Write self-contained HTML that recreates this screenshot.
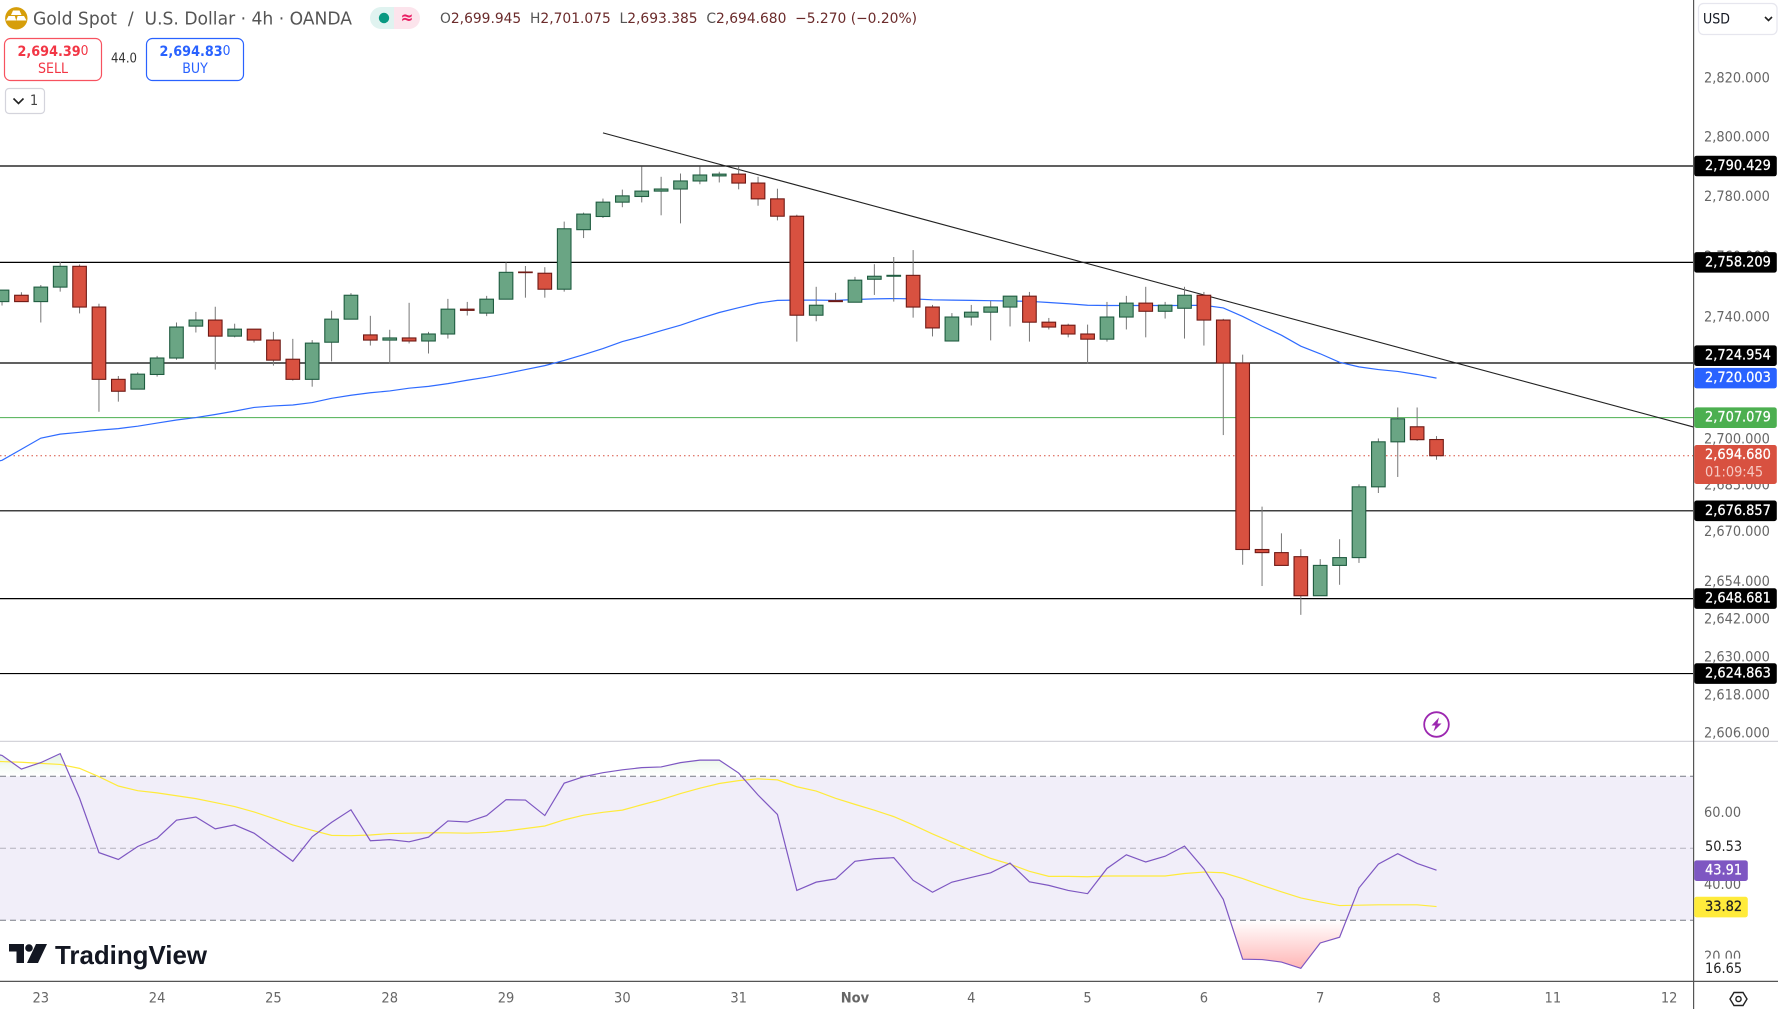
<!DOCTYPE html>
<html>
<head>
<meta charset="utf-8">
<title>Gold Spot / U.S. Dollar 4h</title>
<style>
html,body{margin:0;padding:0;background:#fff;width:1778px;height:1009px;overflow:hidden}
svg{display:block;font-family:"DejaVu Sans Condensed","Liberation Sans",sans-serif}
</style>
</head>
<body>
<svg id="chart" xmlns="http://www.w3.org/2000/svg" width="1778" height="1009" viewBox="0 0 1778 1009">
  <defs>
    <linearGradient id="obGrad" gradientUnits="userSpaceOnUse" x1="0" y1="776" x2="0" y2="746">
      <stop offset="0" stop-color="#4caf50" stop-opacity="0"/>
      <stop offset="1" stop-color="#4caf50" stop-opacity="0.2"/>
    </linearGradient>
    <linearGradient id="osGrad" gradientUnits="userSpaceOnUse" x1="0" y1="920" x2="0" y2="968">
      <stop offset="0" stop-color="#ff5252" stop-opacity="0"/>
      <stop offset="1" stop-color="#ff5252" stop-opacity="0.42"/>
    </linearGradient>
    <clipPath id="obClip"><rect x="0" y="742" width="1693" height="34.3"/></clipPath>
    <clipPath id="osClip"><rect x="0" y="920.3" width="1693" height="60"/></clipPath>
    <clipPath id="plotClip"><rect x="0" y="0" width="1693" height="741"/></clipPath>
  </defs>

  <rect x="0" y="776.3" width="1693" height="144" fill="#f1eef9"/>
  <g id="rsiFills"></g>
  <g id="rsiGuides"></g>
  <g id="priceLevels" clip-path="url(#plotClip)"></g>
  <g id="maLayer" clip-path="url(#plotClip)"></g>
  <g id="candles" clip-path="url(#plotClip)"></g>
  <g id="rsiLines"></g>

  <!-- frame -->
  <line x1="0" y1="741.4" x2="1778" y2="741.4" stroke="#d4d4da" stroke-width="1.2"/>
  <line x1="0" y1="981.4" x2="1778" y2="981.4" stroke="#555" stroke-width="1.2"/>
  <line x1="1693.6" y1="0" x2="1693.6" y2="1009" stroke="#555" stroke-width="1.2"/>

  <g id="priceAxis"></g>
  <g id="timeAxis"></g>

  <!-- header -->
  <g>
    <circle cx="16.3" cy="18.3" r="11.2" fill="#d69e0a"/>
    <polygon points="13,10.5 19.5,10.5 21.5,15 11,15" fill="#fff"/>
    <polygon points="8.5,16 14.8,16 16.2,20.5 6,20.5" fill="#fff"/>
    <polygon points="17.6,16 24,16 26.5,20.5 16.4,20.5" fill="#fff"/>
  </g>
  <text x="33" y="19" dominant-baseline="central" font-size="18" fill="#555" textLength="319" lengthAdjust="spacingAndGlyphs" xml:space="preserve">Gold Spot  /  U.S. Dollar · 4h · OANDA</text>
  <g>
    <path d="M381 7H394V29H381A11 11 0 0 1 381 7Z" fill="#e0f3f0"/>
    <path d="M394 7H409A11 11 0 0 1 409 29H394Z" fill="#fce4ec"/>
    <circle cx="384" cy="18" r="5.2" fill="#089981"/>
    <text x="407" y="18" text-anchor="middle" dominant-baseline="central" font-size="17" font-weight="bold" fill="#e91e63">≈</text>
  </g>
  <text x="440" y="19" dominant-baseline="central" font-size="14.5" fill="#6b2b2b" textLength="477" lengthAdjust="spacingAndGlyphs" xml:space="preserve"><tspan fill="#555">O</tspan>2,699.945  <tspan fill="#555">H</tspan>2,701.075  <tspan fill="#555">L</tspan>2,693.385  <tspan fill="#555">C</tspan>2,694.680  −5.270 (−0.20%)</text>

  <g>
    <rect x="4.5" y="38.5" width="97" height="42" rx="6" fill="#fff" stroke="#f7525f" stroke-width="1.2"/>
    <text x="53" y="52" text-anchor="middle" dominant-baseline="central" font-size="14" font-weight="bold" fill="#f23645" textLength="71" lengthAdjust="spacingAndGlyphs">2,694.39<tspan font-size="13.5" font-weight="normal" dy="-1">0</tspan></text>
    <text x="53" y="69" text-anchor="middle" dominant-baseline="central" font-size="14" fill="#f23645">SELL</text>
  </g>
  <text x="124" y="59" text-anchor="middle" dominant-baseline="central" font-size="13" fill="#333">44.0</text>
  <g>
    <rect x="146.5" y="38.5" width="97" height="42" rx="6" fill="#fff" stroke="#2962ff" stroke-width="1.2"/>
    <text x="195" y="52" text-anchor="middle" dominant-baseline="central" font-size="14" font-weight="bold" fill="#2962ff" textLength="71" lengthAdjust="spacingAndGlyphs">2,694.83<tspan font-size="13.5" font-weight="normal" dy="-1">0</tspan></text>
    <text x="195" y="69" text-anchor="middle" dominant-baseline="central" font-size="14" fill="#2962ff">BUY</text>
  </g>
  <g>
    <rect x="5.5" y="88.5" width="39" height="25" rx="3.5" fill="#fff" stroke="#d4d4dc" stroke-width="1.2"/>
    <path d="M13.5 98.5 L18.5 103.5 L23.5 98.5" fill="none" stroke="#222" stroke-width="1.6"/>
    <text x="34" y="101" text-anchor="middle" dominant-baseline="central" font-size="14.5" fill="#444">1</text>
  </g>
  <g>
    <rect x="1698.5" y="3.5" width="78.5" height="31" rx="5" fill="#fff" stroke="#e6e6ee" stroke-width="1.2"/>
    <text x="1703" y="19.5" dominant-baseline="central" font-size="14" fill="#131722">USD</text>
    <path d="M1765 17 L1768.5 20.5 L1772 17" fill="none" stroke="#222" stroke-width="1.6"/>
  </g>

  <g>
    <path d="M9 944H24V963H16.5V951.5H9Z" fill="#131722"/>
    <circle cx="29" cy="948" r="3.8" fill="#131722"/>
    <polygon points="36,944 47,944 38,963 27,963" fill="#131722"/>
    <text x="55" y="955" dominant-baseline="central" font-family="'Liberation Sans',sans-serif" font-size="26" font-weight="bold" fill="#131722" textLength="152" lengthAdjust="spacingAndGlyphs">TradingView</text>
  </g>
  <g>
    <circle cx="1436.5" cy="724.5" r="12.3" fill="#fff" stroke="#9c27b0" stroke-width="1.8"/>
    <polygon points="1439,717.5 1431.5,725.5 1435.5,725.5 1433.5,731.5 1441.5,723.5 1437.5,723.5" fill="#9c27b0"/>
  </g>
  <g>
    <polygon points="1730,999 1734,992.5 1743,992.5 1747,999 1743,1005.5 1734,1005.5" fill="none" stroke="#222" stroke-width="1.4"/>
    <circle cx="1738.5" cy="999" r="2.6" fill="none" stroke="#222" stroke-width="1.4"/>
  </g>
</svg>

<script>
// ---- chart data ----
const opens = [2745.2,2747.3,2745.2,2750.0,2756.9,2743.4,2719.6,2716.4,2721.2,2726.6,2737.1,2739.1,2733.8,2736.1,2732.5,2726.2,2719.6,2731.8,2739.4,2734.2,2732.5,2733.2,2732.2,2734.5,2742.7,2741.4,2746.0,2755.0,2754.6,2749.3,2769.1,2773.5,2778.3,2780.2,2782.0,2782.7,2785.4,2787.1,2787.7,2784.7,2779.4,2773.6,2740.7,2745.5,2745.0,2752.6,2753.6,2753.9,2743.4,2732.2,2740.1,2741.7,2743.4,2747.0,2738.4,2737.4,2734.5,2732.8,2740.1,2744.7,2742.0,2743.0,2747.3,2739.1,2724.95,2664.4,2663.4,2662.1,2649.6,2659.3,2661.8,2684.6,2699.2,2704.1,2699.945];
const highs = [2749.0,2748.3,2750.7,2758.4,2757.5,2744.5,2720.7,2721.9,2727.3,2738.3,2741.8,2743.5,2737.9,2736.1,2735.2,2732.9,2732.5,2742.2,2748.0,2740.5,2735.9,2744.8,2735.2,2746.1,2745.1,2747.1,2758.2,2757.0,2756.6,2771.8,2774.8,2779.5,2782.5,2790.3,2786.8,2787.9,2790.3,2788.5,2790.3,2786.8,2782.8,2774.1,2750.1,2748.1,2753.4,2757.6,2760.0,2762.3,2744.1,2741.4,2744.1,2745.4,2747.0,2748.4,2739.8,2737.9,2737.6,2745.1,2747.1,2750.1,2745.1,2750.1,2748.4,2739.5,2727.7,2678.2,2669.6,2664.5,2661.3,2667.7,2685.4,2700.3,2710.4,2710.4,2701.075];
const lows = [2743.9,2745.2,2738.3,2748.5,2741.3,2709.0,2712.3,2716.4,2720.5,2726.0,2735.0,2722.8,2733.4,2731.7,2724.1,2719.2,2717.2,2725.5,2739.4,2730.7,2724.9,2731.4,2728.1,2733.0,2740.6,2740.4,2746.0,2746.5,2746.5,2748.5,2766.3,2773.0,2776.6,2778.2,2773.9,2771.2,2784.3,2784.9,2782.6,2777.1,2772.2,2732.0,2738.7,2745.2,2745.0,2747.4,2745.2,2739.9,2733.7,2732.2,2737.3,2732.4,2737.0,2732.0,2736.0,2733.4,2724.9,2732.0,2736.0,2733.4,2739.6,2733.0,2730.7,2701.4,2659.5,2652.7,2659.3,2643.5,2649.6,2653.1,2660.1,2682.6,2687.8,2699.5,2693.385];
const closes = [2749.0,2745.2,2750.0,2756.9,2743.4,2719.6,2715.7,2721.3,2726.6,2736.8,2739.1,2733.8,2736.1,2732.5,2725.9,2719.6,2731.5,2739.4,2747.3,2732.5,2733.2,2732.2,2734.5,2742.7,2742.3,2746.0,2754.9,2754.8,2749.3,2769.4,2774.3,2778.3,2780.4,2782.0,2782.7,2785.4,2787.4,2787.7,2784.7,2779.4,2773.6,2740.7,2744.0,2745.2,2752.3,2753.6,2753.9,2743.4,2736.5,2740.1,2741.7,2743.4,2747.0,2738.4,2736.8,2734.5,2732.8,2740.1,2744.7,2742.0,2744.0,2747.3,2739.1,2724.95,2664.4,2663.4,2659.3,2649.6,2659.3,2661.8,2684.6,2699.2,2706.7,2699.9,2694.68];
const maLeadIn = [2691.8];
const maValues = [2693.2,2696.8,2700.4,2701.7,2702.3,2703.0,2703.5,2704.3,2705.3,2706.3,2707.1,2708.1,2709.2,2710.4,2710.9,2711.2,2712.0,2713.4,2714.4,2715.2,2715.8,2716.7,2717.3,2718.2,2719.3,2720.3,2721.5,2722.8,2724.1,2725.8,2727.7,2729.7,2732.0,2733.7,2735.6,2737.4,2739.6,2741.6,2743.2,2744.7,2745.6,2745.7,2745.7,2745.6,2745.9,2746.1,2746.2,2746.1,2745.8,2745.7,2745.6,2745.5,2745.4,2745.3,2744.9,2744.5,2744.0,2743.9,2743.9,2743.9,2743.9,2743.9,2744.0,2743.1,2740.3,2737.1,2734.1,2730.5,2728.0,2725.2,2723.7,2722.8,2722.2,2721.2,2720.003];
const rsiLeadIn = [77.0];
const rsiValues = [75.8,72.0,73.8,76.3,63.9,48.8,46.9,50.5,52.8,57.8,58.7,55.4,56.5,54.2,50.3,46.4,53.2,57.2,60.7,52.1,52.4,51.8,53.1,57.6,57.3,59.1,63.5,63.4,59.1,68.1,69.9,71.0,71.8,72.4,72.6,73.8,74.5,74.5,70.9,64.8,59.4,38.3,40.6,41.5,46.4,47.1,47.4,41.1,37.8,40.6,41.9,43.2,45.9,40.7,39.7,38.3,37.4,44.4,48.2,46.2,47.8,50.6,44.3,35.8,19.2,19.1,18.4,16.65,23.7,25.3,39.0,45.6,48.5,45.8,43.91];
const rsiMaLeadIn = [74.3];
const rsiMaValues = [74.1,73.9,73.6,73.3,72.2,69.9,67.3,66.0,65.4,64.6,63.8,62.7,61.6,60.1,58.3,56.5,55.0,53.6,53.5,53.7,54.1,54.2,54.3,54.3,54.2,54.4,54.8,55.5,56.2,57.9,59.2,60.0,60.6,62.1,63.5,65.2,66.7,68.0,68.8,69.3,69.0,67.1,65.9,63.9,62.2,60.6,58.8,56.5,54.0,51.7,49.4,47.2,45.6,43.6,42.2,42.2,42.1,42.3,42.3,42.3,42.3,43.0,43.4,43.2,41.6,39.7,37.9,36.2,35.1,34.1,34.2,34.3,34.3,34.3,33.82];
const levelValues = [2790.429,2758.209,2724.954,2676.857,2648.681,2624.863];
const entryLevel = [2707.079];
const trendBars = [29,85.27];
const trendPrices = [2801.6,2704.0];
const priceTicks = [2820,2800,2780,2760,2740,2700,2685,2670,2654,2642,2630,2618,2606];
const rsiTicks = [60,40,20];
const rsiGuideValues = [70,50,30];
const rsiRangeStats = [50.53,16.65];
const dayLabels = ['23','24','25','28','29','30','31','Nov','4','5','6','7','8','11','12'];
const dayBars = [0,6,12,18,24,30,36,42,48,54,60,66,72,78,84];
const firstBar = -2;
const countdown = ['01:09:45'];

// ---- axis functions ----
function xScale(bar){ return 40.8 + 19.385 * bar; }
function yPrice(p){ return 166 + 8298 * Math.log(2790.429 / p); }
function yRsi(r){ return 848.3 - (r - 50) * 3.6; }
function fmtPrice(p){ return p.toLocaleString('en-US',{minimumFractionDigits:3,maximumFractionDigits:3}); }

const NS = 'http://www.w3.org/2000/svg';
function make(tag, parent, props){
  const el = document.createElementNS(NS, tag);
  for (const key in props) el.setAttribute(key, props[key]);
  document.getElementById(parent).appendChild(el);
  return el;
}
function linePath(lead, values, yFn){
  const series = lead.concat(values);
  const start = firstBar - lead.length;
  return series.map((v,i)=>(i?'L':'M')+xScale(i+start).toFixed(2)+' '+yFn(v).toFixed(2)).join(' ');
}

// ---- RSI fills ----
function rsiArea(base){
  const first = xScale(firstBar-1).toFixed(2);
  const last = xScale(firstBar+rsiValues.length-1).toFixed(2);
  return 'M'+first+' '+yRsi(base)+' '+linePath(rsiLeadIn,rsiValues,yRsi).replace('M','L')+' L'+last+' '+yRsi(base)+' Z';
}
const obFill = make('path','rsiFills',{d:rsiArea(rsiGuideValues[0]),fill:'url(#obGrad)','clip-path':'url(#obClip)'});


const osFill = make('path','rsiFills',{d:rsiArea(rsiGuideValues[2]),fill:'url(#osGrad)','clip-path':'url(#osClip)'});



// ---- RSI guides ----
rsiGuideValues.forEach(function(v,i){
  const g = make('line','rsiGuides',{x1:0,x2:1693,y1:yRsi(v),y2:yRsi(v),stroke:i===1?'#b4b2be':'#787b86','stroke-width':1,'stroke-dasharray':'6 4'});
  
  
});

// ---- horizontal levels and trend line ----
levelValues.forEach(function(v){
  const l = make('line','priceLevels',{x1:0,x2:1693,y1:yPrice(v),y2:yPrice(v),stroke:'#000','stroke-width':1.2});
  
  
});
const greenLine = make('line','priceLevels',{x1:0,x2:1693,y1:yPrice(entryLevel[0]),y2:yPrice(entryLevel[0]),stroke:'#4caf50','stroke-width':1});


const lastLine = make('line','priceLevels',{x1:0,x2:1693,y1:yPrice(closes[closes.length-1]),y2:yPrice(closes[closes.length-1]),stroke:'#d85140','stroke-width':1,'stroke-dasharray':'1.5 3'});


const trend = make('line','priceLevels',{x1:xScale(trendBars[0]),y1:yPrice(trendPrices[0]),x2:xScale(trendBars[1]),y2:yPrice(trendPrices[1]),stroke:'#222','stroke-width':1.1});



// ---- moving average ----
const ma = make('path','maLayer',{d:linePath(maLeadIn,maValues,yPrice),fill:'none',stroke:'#2f6bff','stroke-width':1.2});



// ---- candles ----
closes.forEach(function(c,i){
  const o = opens[i], x = xScale(i+firstBar), up = c >= o;
  const wick = make('line','candles',{x1:x,x2:x,y1:yPrice(highs[i]),y2:yPrice(lows[i]),stroke:'#777','stroke-width':1});
  
  
  const top = yPrice(Math.max(o,c)), bot = yPrice(Math.min(o,c));
  const body = make('rect','candles',{x:x-6.8,y:top,width:13.6,height:Math.max(bot-top,0.6),fill:up?'#6aa584':'#d85140',stroke:up?'#1f5c40':'#6f1a15','stroke-width':1.1});
  
  
});

// ---- RSI lines ----
const rsiMa = make('path','rsiLines',{d:linePath(rsiMaLeadIn,rsiMaValues,yRsi),fill:'none',stroke:'#ffeb3b','stroke-width':1.2});


const rsi = make('path','rsiLines',{d:linePath(rsiLeadIn,rsiValues,yRsi),fill:'none',stroke:'#7e57c2','stroke-width':1.2});



// ---- price axis ticks ----
priceTicks.forEach(function(p){
  const t = make('text','priceAxis',{x:1704,y:yPrice(p),'dominant-baseline':'central','font-size':14.4,fill:'#666'});
  t.textContent = fmtPrice(p);
  
  
});
rsiTicks.forEach(function(r){
  const t = make('text','priceAxis',{x:1704,y:yRsi(r)+0.5,'dominant-baseline':'central','font-size':14.4,fill:'#666'});
  t.textContent = r.toFixed(2);
  
  
});

// ---- tags on the price axis ----
function drawTag(value, text, fill, fg, width, nudge, name){
  const cy = value + nudge;
  const r = make('rect','priceAxis',{x:1694.2,y:cy-10.3,width:width,height:20.6,rx:2.5,fill:fill});
  
  
  const t = make('text','priceAxis',{x:1705,y:cy,'dominant-baseline':'central','font-size':14.4,fill:fg,stroke:fg,'stroke-width':0.25});
  t.textContent = text;
  
  
}
levelValues.forEach(function(v){
  drawTag(yPrice(v), fmtPrice(v), '#000', '#fff', 82.6, v===2724.954?-7.3:0, 'level-tag');
});
const maLast = maValues[maValues.length-1];
drawTag(yPrice(maLast), fmtPrice(maLast), '#2962ff', '#fff', 82.6, 0, 'ma-tag');
drawTag(yPrice(entryLevel[0]), fmtPrice(entryLevel[0]), '#4caf50', '#fff', 82.6, 0, 'green-level-tag');

const lastPrice = closes[closes.length-1];
const lastBox = make('rect','priceAxis',{x:1694.2,y:445,width:82.6,height:39,rx:2.5,fill:'#d85140'});


const lastText = make('text','priceAxis',{x:1705,y:454.9,'dominant-baseline':'central','font-size':14.4,fill:'#fff',stroke:'#fff','stroke-width':0.25});
lastText.textContent = fmtPrice(lastPrice);


const cdText = make('text','priceAxis',{x:1705,y:472.7,'dominant-baseline':'central','font-size':14.4,fill:'#f6c9c3'});
cdText.textContent = countdown[0];



// RSI side labels
rsiRangeStats.forEach(function(v){
  const cy = yRsi(v)+0.5;
  const bg = make('rect','priceAxis',{x:1695,y:cy-10.3,width:54,height:20.6,fill:'#fff'});
  
  
  const t = make('text','priceAxis',{x:1705,y:cy,'dominant-baseline':'central','font-size':14.4,fill:'#222'});
  t.textContent = v.toFixed(2);
  
  
});
drawTag(yRsi(rsiValues[rsiValues.length-1]), rsiValues[rsiValues.length-1].toFixed(2), '#7e57c2', '#fff', 53.6, 0.5, 'rsi-tag');
drawTag(yRsi(rsiMaValues[rsiMaValues.length-1]), rsiMaValues[rsiMaValues.length-1].toFixed(2), '#ffeb3b', '#222', 53.6, 0.5, 'rsi-ma-tag');

// ---- time axis ----
dayLabels.forEach(function(lbl,i){
  const t = make('text','timeAxis',{x:xScale(dayBars[i]),y:998.5,'text-anchor':'middle','dominant-baseline':'central','font-size':14.5,fill:'#666','font-weight':lbl==='Nov'?'bold':'normal'});
  t.textContent = lbl;
  
  
});
</script>
</body>
</html>
